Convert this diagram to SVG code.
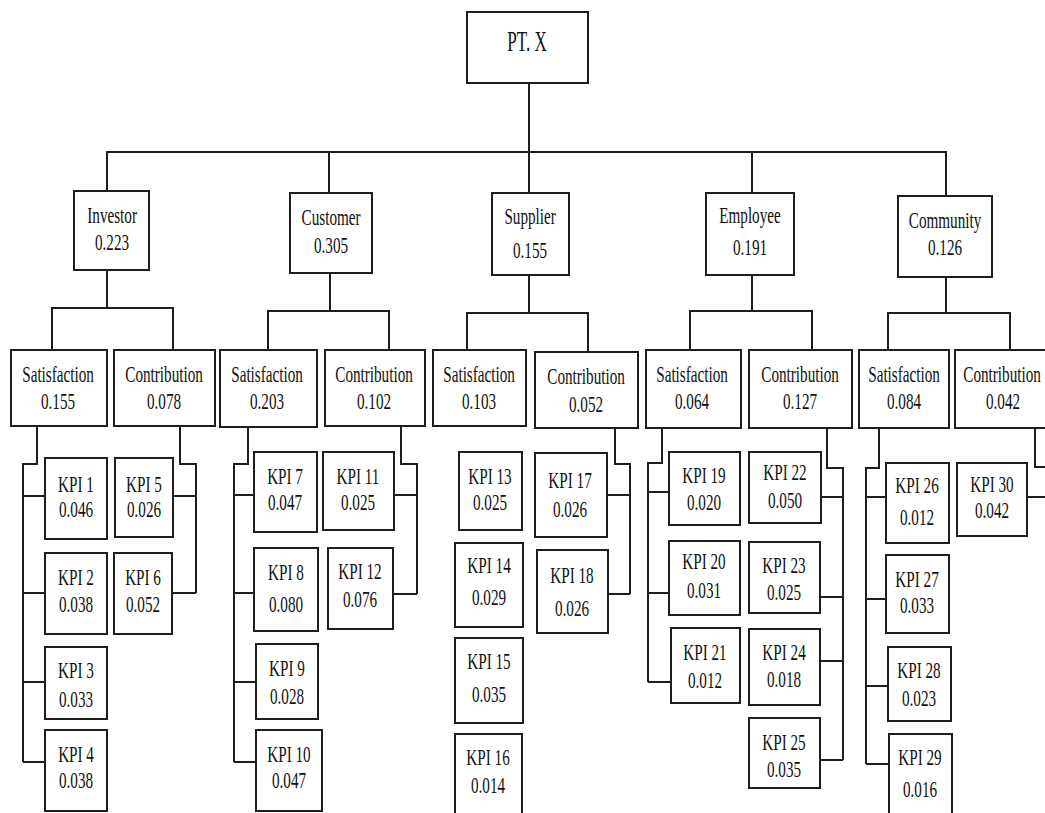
<svg xmlns="http://www.w3.org/2000/svg" width="1045" height="813" viewBox="0 0 1045 813">
<style>
.b{fill:#fff;stroke:#1e1e1e;stroke-width:2}
.c{fill:none;stroke:#1e1e1e;stroke-width:2}
text{font-family:"Liberation Serif","Times New Roman",serif;font-size:23px;fill:#111;text-anchor:middle;transform-box:fill-box;transform-origin:center;transform:scaleX(0.66)}
text.big{font-size:29px;transform:scaleX(0.59)}
</style>
<rect width="1045" height="813" fill="#fff"/>
<g id="connectors">
<path class="c" d="M529,83V193M107,191V152H946V196M329,152V193M752,152V193"/>
<path class="c" d="M107,270V308M52,350V308H173V350"/>
<path class="c" d="M330,273V311M268,350V311H389V350"/>
<path class="c" d="M529,275V313M467,350V313H588V352"/>
<path class="c" d="M752,275V311M690,350V311H812V350"/>
<path class="c" d="M946,277V313M888,350V313H1010V350"/>
<path class="c" d="M37,426V464H23V762M23,496H45M23,593H45M23,682H45M23,762H45"/>
<path class="c" d="M180,426V464H196V593M173,496H196M172,593H196"/>
<path class="c" d="M248,427V464H234V762M234,495H254M234,593H254M234,682H256M234,762H256"/>
<path class="c" d="M401,426V464H417V594M394,495H417M393,594H417"/>
<path class="c" d="M615,428V464H630V594M607,495H630M608,594H630"/>
<path class="c" d="M662,428V463H648V682M648,492H669M648,593H669M648,682H671"/>
<path class="c" d="M827,428V468H843V760M821,497H843M820,597H843M820,661H843M820,760H843"/>
<path class="c" d="M879,428V468H866V764M866,497H886M866,599H886M866,686H888M866,764H889"/>
<path class="c" d="M1035,428V467H1050M1027,497H1050"/>
</g>
<g id="root"><rect class="b" x="467" y="12" width="121" height="71"/><text class="big" x="527" y="51">PT. X</text></g>
<g id="investor"><rect class="b" x="74" y="191" width="75" height="79"/><text x="112" y="223">Investor</text><text x="112" y="250">0.223</text></g>
<g id="customer"><rect class="b" x="290" y="193" width="82" height="80"/><text x="331" y="225">Customer</text><text x="331" y="253">0.305</text></g>
<g id="supplier"><rect class="b" x="492" y="193" width="77" height="82"/><text x="530" y="224">Supplier</text><text x="530" y="258">0.155</text></g>
<g id="employee"><rect class="b" x="706" y="193" width="88" height="82"/><text x="750" y="223">Employee</text><text x="750" y="255">0.191</text></g>
<g id="community"><rect class="b" x="898" y="196" width="94" height="81"/><text x="945" y="228">Community</text><text x="945" y="255">0.126</text></g>
<g id="inv-sat"><rect class="b" x="11" y="350" width="96" height="76"/><text x="58" y="382">Satisfaction</text><text x="58" y="409">0.155</text></g>
<g id="inv-con"><rect class="b" x="114" y="350" width="101" height="76"/><text x="164" y="382">Contribution</text><text x="164" y="409">0.078</text></g>
<g id="cus-sat"><rect class="b" x="220" y="350" width="97" height="77"/><text x="267" y="382">Satisfaction</text><text x="267" y="409">0.203</text></g>
<g id="cus-con"><rect class="b" x="325" y="350" width="100" height="76"/><text x="374" y="382">Contribution</text><text x="374" y="409">0.102</text></g>
<g id="sup-sat"><rect class="b" x="433" y="350" width="93" height="76"/><text x="479" y="382">Satisfaction</text><text x="479" y="409">0.103</text></g>
<g id="sup-con"><rect class="b" x="535" y="352" width="103" height="76"/><text x="586" y="384">Contribution</text><text x="586" y="412">0.052</text></g>
<g id="emp-sat"><rect class="b" x="646" y="350" width="95" height="78"/><text x="692" y="382">Satisfaction</text><text x="692" y="409">0.064</text></g>
<g id="emp-con"><rect class="b" x="749" y="350" width="103" height="78"/><text x="800" y="382">Contribution</text><text x="800" y="409">0.127</text></g>
<g id="com-sat"><rect class="b" x="859" y="350" width="90" height="78"/><text x="904" y="382">Satisfaction</text><text x="904" y="409">0.084</text></g>
<g id="com-con"><rect class="b" x="955" y="350" width="100" height="78"/><text x="1002" y="382">Contribution</text><text x="1003" y="409">0.042</text></g>
<g id="kpi1"><rect class="b" x="45" y="458" width="62" height="81"/><text x="76" y="492">KPI 1</text><text x="76" y="517">0.046</text></g>
<g id="kpi2"><rect class="b" x="45" y="553" width="62" height="81"/><text x="76" y="585">KPI 2</text><text x="76" y="612">0.038</text></g>
<g id="kpi3"><rect class="b" x="45" y="647" width="62" height="72"/><text x="76" y="678">KPI 3</text><text x="76" y="707">0.033</text></g>
<g id="kpi4"><rect class="b" x="45" y="730" width="62" height="81"/><text x="76" y="762">KPI 4</text><text x="76" y="788">0.038</text></g>
<g id="kpi5"><rect class="b" x="115" y="458" width="58" height="79"/><text x="144" y="492">KPI 5</text><text x="144" y="517">0.026</text></g>
<g id="kpi6"><rect class="b" x="114" y="553" width="58" height="81"/><text x="143" y="585">KPI 6</text><text x="143" y="612">0.052</text></g>
<g id="kpi7"><rect class="b" x="254" y="452" width="63" height="80"/><text x="285" y="484">KPI 7</text><text x="285" y="510">0.047</text></g>
<g id="kpi8"><rect class="b" x="254" y="548" width="64" height="83"/><text x="286" y="580">KPI 8</text><text x="286" y="612">0.080</text></g>
<g id="kpi9"><rect class="b" x="256" y="644" width="62" height="75"/><text x="287" y="676">KPI 9</text><text x="287" y="704">0.028</text></g>
<g id="kpi10"><rect class="b" x="256" y="730" width="66" height="81"/><text x="289" y="762">KPI 10</text><text x="289" y="788">0.047</text></g>
<g id="kpi11"><rect class="b" x="323" y="452" width="71" height="78"/><text x="358" y="484">KPI 11</text><text x="358" y="510">0.025</text></g>
<g id="kpi12"><rect class="b" x="328" y="548" width="65" height="81"/><text x="360" y="579">KPI 12</text><text x="360" y="607">0.076</text></g>
<g id="kpi13"><rect class="b" x="459" y="452" width="63" height="78"/><text x="490" y="484">KPI 13</text><text x="490" y="510">0.025</text></g>
<g id="kpi14"><rect class="b" x="455" y="543" width="68" height="84"/><text x="489" y="573">KPI 14</text><text x="489" y="605">0.029</text></g>
<g id="kpi15"><rect class="b" x="455" y="638" width="68" height="85"/><text x="489" y="669">KPI 15</text><text x="489" y="702">0.035</text></g>
<g id="kpi16"><rect class="b" x="455" y="734" width="67" height="90"/><text x="488" y="765">KPI 16</text><text x="488" y="793">0.014</text></g>
<g id="kpi17"><rect class="b" x="535" y="453" width="72" height="84"/><text x="570" y="488">KPI 17</text><text x="570" y="517">0.026</text></g>
<g id="kpi18"><rect class="b" x="537" y="550" width="71" height="83"/><text x="572" y="583">KPI 18</text><text x="572" y="616">0.026</text></g>
<g id="kpi19"><rect class="b" x="669" y="452" width="71" height="73"/><text x="704" y="483">KPI 19</text><text x="704" y="510">0.020</text></g>
<g id="kpi20"><rect class="b" x="669" y="541" width="71" height="74"/><text x="704" y="569">KPI 20</text><text x="704" y="598">0.031</text></g>
<g id="kpi21"><rect class="b" x="671" y="628" width="69" height="75"/><text x="705" y="660">KPI 21</text><text x="705" y="688">0.012</text></g>
<g id="kpi22"><rect class="b" x="749" y="452" width="72" height="71"/><text x="785" y="480">KPI 22</text><text x="785" y="508">0.050</text></g>
<g id="kpi23"><rect class="b" x="749" y="542" width="71" height="71"/><text x="784" y="573">KPI 23</text><text x="784" y="600">0.025</text></g>
<g id="kpi24"><rect class="b" x="749" y="629" width="71" height="76"/><text x="784" y="660">KPI 24</text><text x="784" y="687">0.018</text></g>
<g id="kpi25"><rect class="b" x="749" y="718" width="71" height="70"/><text x="784" y="750">KPI 25</text><text x="784" y="777">0.035</text></g>
<g id="kpi26"><rect class="b" x="886" y="463" width="63" height="80"/><text x="917" y="493">KPI 26</text><text x="917" y="525">0.012</text></g>
<g id="kpi27"><rect class="b" x="886" y="555" width="63" height="78"/><text x="917" y="587">KPI 27</text><text x="917" y="613">0.033</text></g>
<g id="kpi28"><rect class="b" x="888" y="647" width="63" height="74"/><text x="919" y="678">KPI 28</text><text x="919" y="706">0.023</text></g>
<g id="kpi29"><rect class="b" x="889" y="734" width="63" height="90"/><text x="920" y="765">KPI 29</text><text x="920" y="797">0.016</text></g>
<g id="kpi30"><rect class="b" x="957" y="463" width="70" height="73"/><text x="992" y="492">KPI 30</text><text x="992" y="518">0.042</text></g>
</svg>
